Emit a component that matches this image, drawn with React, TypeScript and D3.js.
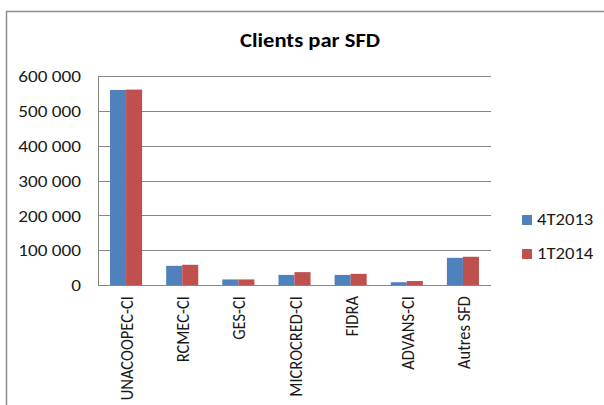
import React from 'react';
import * as d3 from 'd3';

const categories = ['UNACOOPEC-CI', 'RCMEC-CI', 'GES-CI', 'MICROCRED-CI', 'FIDRA', 'ADVANS-CI', 'Autres SFD'];
const seriesNames = ['4T2013', '1T2014'];
const values4T2013 = [560000, 55000, 16000, 29000, 29000, 8000, 78000];
const values1T2014 = [561000, 58000, 16000, 37000, 32000, 11500, 81000];
const yTicks = [0, 100000, 200000, 300000, 400000, 500000, 600000];
const colors = ['#4F81BD', '#C0504D'];

const W = 604;
const H = 405;
const plot = {left: 98, right: 491, top: 76, bottom: 285};
const font = 'Carlito, Calibri, Lato, sans-serif';
// the source picture is stretched horizontally a bit
const sx = 1.13;

const fmt = (v: number) => d3.format(',')(v).replace(/,/g, ' ');

export default function App() {
    const series = [values4T2013, values1T2014];

    // Excel-like clustered columns, 150% gap width
    const x = d3.scaleBand<string>()
        .domain(categories)
        .range([plot.left, plot.right]);
    const barW = x.step() / 3.5;

    const y = d3.scaleLinear().domain([0, 600000]).range([plot.bottom, plot.top]);

    return (
        <svg width={W} height={H} style={{position: 'absolute', left: 0, top: 0, background: '#fff'}}>
            {/* outer chart frame */}
            <path d={`M6.5,${H} V11.5 H${W}`} fill="none" stroke="#8c8c8c" strokeWidth={1.5}/>

            <text transform={`translate(310,47) scale(${sx},1)`} textAnchor="middle" fontFamily={font}
                  fontWeight="bold" fontSize={20} fill="#000">
                Clients par SFD
            </text>

            {yTicks.map((t) => (
                <g key={t}>
                    <line x1={plot.left} x2={plot.right} y1={Math.round(y(t)) + 0.5} y2={Math.round(y(t)) + 0.5}
                          stroke="#868686" strokeWidth={1}/>
                    <text transform={`translate(81,${y(t) + 0.5}) scale(${sx},1)`} dy="0.34em" textAnchor="end"
                          fontFamily={font} fontSize={17} fill="#1a1a1a">
                        {fmt(t)}
                    </text>
                </g>
            ))}
            <line x1={plot.left + 0.5} x2={plot.left + 0.5} y1={plot.top} y2={plot.bottom} stroke="#868686"/>

            {categories.map((c, i) => {
                const cx = (x(c) as number) + x.step() / 2;
                return (
                    <g key={c}>
                        {series.map((s, j) => (
                            <rect key={j}
                                  x={cx - barW + j * barW}
                                  y={y(s[i])}
                                  width={barW}
                                  height={plot.bottom - y(s[i])}
                                  fill={colors[j]}/>
                        ))}
                        <text transform={`translate(${cx + 7},${plot.bottom + 11}) rotate(-90) scale(1,${sx})`}
                              textAnchor="end" fontFamily={font} fontSize={16.5} fill="#1a1a1a">
                            {c}
                        </text>
                    </g>
                );
            })}

            {seriesNames.map((n, j) => (
                <g key={n} transform={`translate(522,${220 + j * 34})`}>
                    <rect x={0} y={-5} width={10} height={10} fill={colors[j]}/>
                    <text transform={`translate(15,-1) scale(${sx},1)`} dy="0.34em" fontFamily={font}
                          fontSize={16.5} fill="#1a1a1a">{n}</text>
                </g>
            ))}
        </svg>
    );
}
